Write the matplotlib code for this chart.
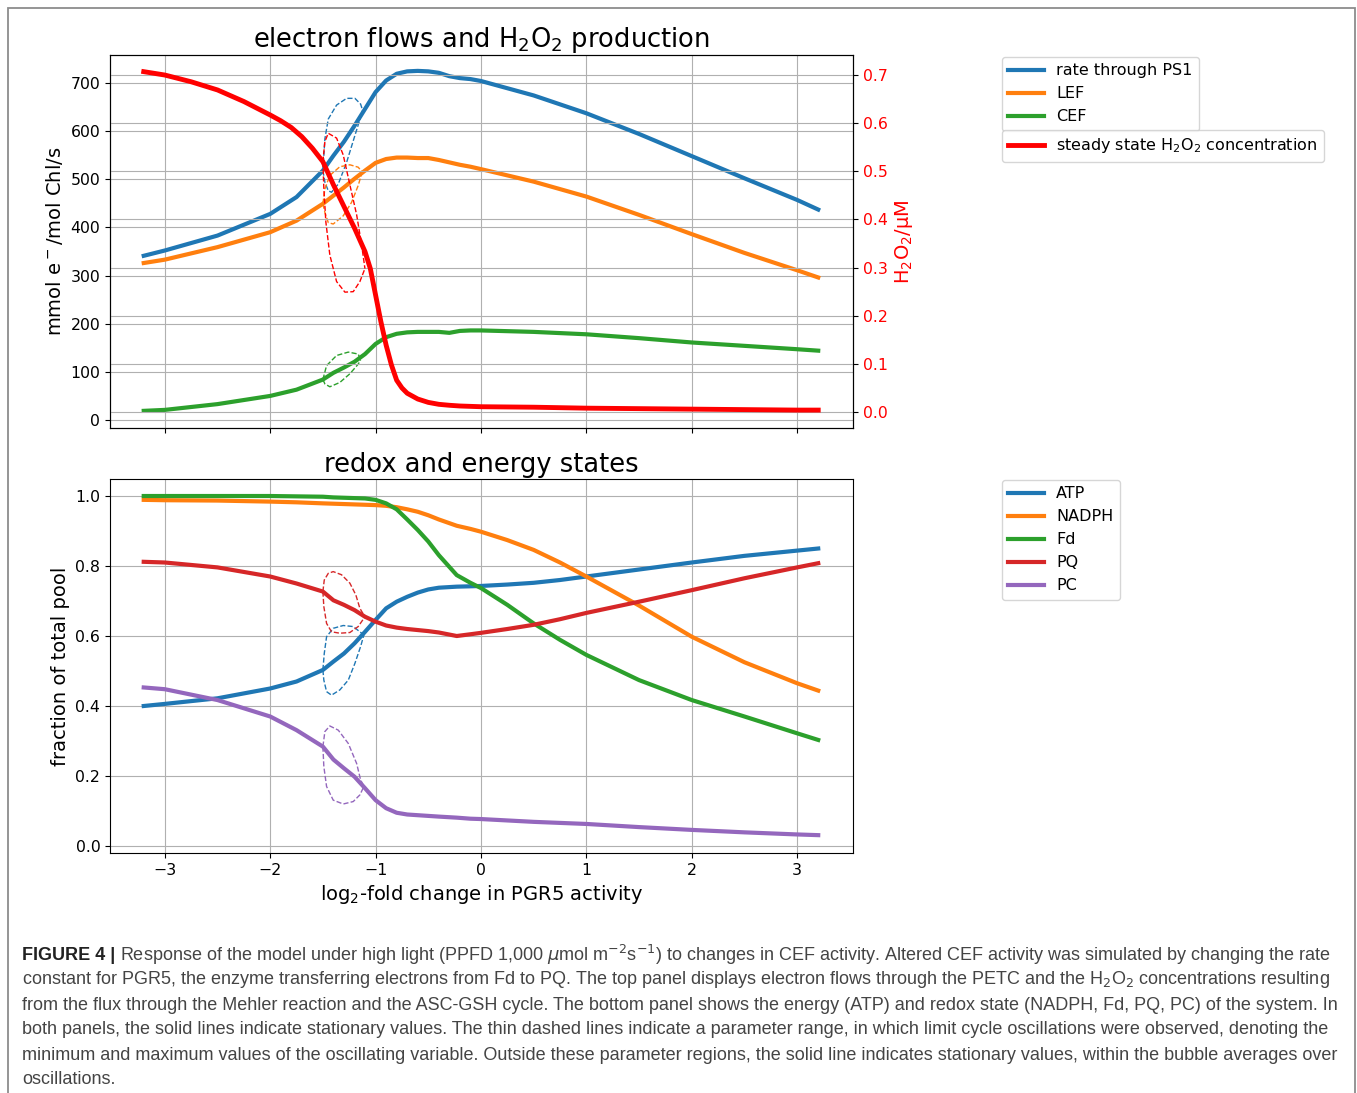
import matplotlib
matplotlib.use("Agg")
import matplotlib.pyplot as plt
from matplotlib.patches import Rectangle

# ---- top panel: electron flows (mmol e-/mol Chl/s) ----
x_top = [-3.2, -3.0, -2.5, -2.0, -1.75, -1.5, -1.4, -1.3, -1.2, -1.1, -1.0, -0.9, -0.8,
         -0.7, -0.6, -0.5, -0.4, -0.3, -0.2, -0.1, 0.0, 0.5, 1.0, 1.5, 2.0, 2.5, 3.0, 3.2]
ps1 = [341, 352, 383, 428, 463, 518, 549, 578, 611, 646, 681, 705, 719,
       724, 725, 724, 721, 714, 710, 708, 704, 674, 637, 594, 548, 502, 457, 437]
lef = [326, 333, 359, 390, 414, 449, 466, 483, 501, 518, 534, 542, 545,
       545, 544, 544, 540, 535, 530, 526, 521, 495, 464, 426, 386, 347, 311, 296]
cef = [19, 21, 33, 50, 63, 84, 98, 109, 121, 137, 158, 172, 179,
       182, 183, 183, 183, 181, 185, 186, 186, 183, 178, 170, 161, 154, 147, 144]

x_h2o2 = [-3.2, -3.0, -2.75, -2.5, -2.25, -2.0, -1.9, -1.8, -1.7, -1.6, -1.5, -1.4, -1.3, -1.2,
          -1.1, -1.05, -1.0, -0.95, -0.9, -0.85, -0.8, -0.75, -0.7, -0.6, -0.5, -0.4, -0.3,
          -0.2, 0.0, 0.5, 1.0, 1.5, 2.0, 2.5, 3.0, 3.2]
h2o2 = [0.707, 0.700, 0.686, 0.669, 0.645, 0.617, 0.605, 0.591, 0.572, 0.548, 0.520, 0.472, 0.427, 0.382,
        0.333, 0.298, 0.243, 0.188, 0.139, 0.098, 0.066, 0.050, 0.039, 0.027, 0.020, 0.016, 0.014,
        0.0125, 0.011, 0.010, 0.008, 0.007, 0.006, 0.005, 0.004, 0.004]

# oscillation bubbles (max / min), top panel
ps1_bx_max = [-1.5, -1.481, -1.449, -1.37, -1.275, -1.196, -1.142, -1.123]
ps1_max = [518, 584, 625, 654, 668, 668, 656, 643]
ps1_bx_min = [-1.5, -1.481, -1.449, -1.418, -1.354, -1.275, -1.196, -1.142, -1.123]
ps1_min = [518, 494, 476, 473, 490, 535, 591, 629, 643]

lef_bx_max = [-1.5, -1.481, -1.434, -1.339, -1.244, -1.165, -1.127]
lef_max = [449, 480, 508, 526, 530, 525, 515]
lef_bx_min = [-1.5, -1.481, -1.449, -1.402, -1.307, -1.228, -1.165, -1.127]
lef_min = [449, 431, 410, 407, 424, 452, 487, 515]

cef_bx_max = [-1.5, -1.465, -1.37, -1.259, -1.165, -1.142]
cef_max = [84, 113, 134, 141, 137, 125]
cef_bx_min = [-1.5, -1.481, -1.434, -1.339, -1.244, -1.165, -1.142]
cef_min = [84, 75, 69, 78, 96, 116, 125]

h2o2_bx_max = [-1.5, -1.481, -1.449, -1.37, -1.307, -1.244, -1.18, -1.133, -1.101]
h2o2_max = [0.520, 0.562, 0.579, 0.569, 0.534, 0.472, 0.410, 0.348, 0.298]
h2o2_bx_min = [-1.5, -1.491, -1.472, -1.434, -1.37, -1.291, -1.212, -1.149, -1.101]
h2o2_min = [0.520, 0.465, 0.395, 0.326, 0.271, 0.249, 0.250, 0.271, 0.298]

# ---- bottom panel: fraction of total pool ----
x_bot = [-3.2, -3.0, -2.5, -2.0, -1.75, -1.5, -1.4, -1.3, -1.2, -1.1, -1.0, -0.9, -0.8, -0.7,
         -0.6, -0.5, -0.4, -0.23, -0.1, 0.0, 0.25, 0.5, 0.75, 1.0, 1.5, 2.0, 2.5, 3.0, 3.2]
atp = [0.400, 0.406, 0.422, 0.450, 0.470, 0.503, 0.527, 0.550, 0.579, 0.612, 0.646, 0.679, 0.698, 0.712,
       0.724, 0.733, 0.738, 0.741, 0.742, 0.743, 0.747, 0.752, 0.760, 0.770, 0.790, 0.810, 0.829, 0.844, 0.850]
nadph = [0.989, 0.988, 0.987, 0.984, 0.982, 0.979, 0.978, 0.977, 0.976, 0.975, 0.974, 0.972, 0.968, 0.962,
         0.955, 0.945, 0.933, 0.915, 0.906, 0.898, 0.874, 0.846, 0.810, 0.770, 0.687, 0.598, 0.525, 0.465, 0.444]
fd = [1.0, 1.0, 1.0, 1.0, 0.999, 0.998, 0.996, 0.995, 0.994, 0.993, 0.989, 0.979, 0.962, 0.933,
      0.903, 0.870, 0.831, 0.774, 0.752, 0.737, 0.689, 0.636, 0.589, 0.546, 0.474, 0.417, 0.370, 0.322, 0.303]
pq = [0.812, 0.810, 0.796, 0.770, 0.750, 0.727, 0.702, 0.689, 0.674, 0.655, 0.641, 0.630, 0.624, 0.620,
      0.617, 0.614, 0.610, 0.600, 0.605, 0.609, 0.620, 0.632, 0.648, 0.666, 0.698, 0.731, 0.765, 0.796, 0.808]
pc = [0.453, 0.448, 0.417, 0.370, 0.331, 0.284, 0.247, 0.222, 0.198, 0.165, 0.131, 0.108, 0.095, 0.090,
      0.088, 0.086, 0.084, 0.081, 0.078, 0.077, 0.073, 0.069, 0.066, 0.063, 0.054, 0.046, 0.039, 0.033, 0.031]

atp_bx_max = [-1.5, -1.487, -1.465, -1.402, -1.307, -1.212, -1.149, -1.111]
atp_max = [0.503, 0.550, 0.598, 0.622, 0.630, 0.627, 0.612, 0.603]
atp_bx_min = [-1.5, -1.491, -1.465, -1.418, -1.339, -1.259, -1.196, -1.142, -1.111]
atp_min = [0.503, 0.474, 0.441, 0.431, 0.446, 0.474, 0.522, 0.570, 0.603]

pq_bx_max = [-1.5, -1.487, -1.449, -1.402, -1.323, -1.244, -1.187, -1.149, -1.101]
pq_max = [0.727, 0.760, 0.779, 0.784, 0.775, 0.751, 0.717, 0.679, 0.655]
pq_bx_min = [-1.5, -1.491, -1.465, -1.418, -1.339, -1.244, -1.165, -1.101]
pq_min = [0.727, 0.684, 0.636, 0.612, 0.608, 0.610, 0.627, 0.655]

pc_bx_max = [-1.5, -1.481, -1.434, -1.354, -1.259, -1.18, -1.142, -1.111]
pc_max = [0.284, 0.327, 0.343, 0.331, 0.293, 0.236, 0.189, 0.170]
pc_bx_min = [-1.5, -1.491, -1.465, -1.402, -1.307, -1.212, -1.149, -1.111]
pc_min = [0.284, 0.227, 0.170, 0.131, 0.120, 0.127, 0.146, 0.170]

caption_lines = [
    r"Response of the model under high light (PPFD 1,000 $\mu$mol m$^{-2}$s$^{-1}$) to changes in CEF activity. Altered CEF activity was simulated by changing the rate",
    r"constant for PGR5, the enzyme transferring electrons from Fd to PQ. The top panel displays electron flows through the PETC and the H$_2$O$_2$ concentrations resulting",
    "from the flux through the Mehler reaction and the ASC-GSH cycle. The bottom panel shows the energy (ATP) and redox state (NADPH, Fd, PQ, PC) of the system. In",
    "both panels, the solid lines indicate stationary values. The thin dashed lines indicate a parameter range, in which limit cycle oscillations were observed, denoting the",
    "minimum and maximum values of the oscillating variable. Outside these parameter regions, the solid line indicates stationary values, within the bubble averages over",
    "oscillations.",
]

W, H = 1357, 1093
fig = plt.figure(figsize=(W / 100, H / 100), dpi=100)

ax1 = fig.add_axes([110 / W, 1 - 428 / H, 743 / W, 373 / H])
ax2 = ax1.twinx()
ax3 = fig.add_axes([110 / W, 1 - 853 / H, 743 / W, 374 / H])

lw = 3
title_fs = 18.5
label_fs = 14
leg_fs = 11.5

l1, = ax1.plot(x_top, ps1, color='tab:blue', lw=lw, label='rate through PS1')
l2, = ax1.plot(x_top, lef, color='tab:orange', lw=lw, label='LEF')
l3, = ax1.plot(x_top, cef, color='tab:green', lw=lw, label='CEF')
for bx1, b1, bx2, b2, c in [(ps1_bx_max, ps1_max, ps1_bx_min, ps1_min, 'tab:blue'),
                            (lef_bx_max, lef_max, lef_bx_min, lef_min, 'tab:orange'),
                            (cef_bx_max, cef_max, cef_bx_min, cef_min, 'tab:green')]:
    ax1.plot(bx1, b1, '--', color=c, lw=1)
    ax1.plot(bx2, b2, '--', color=c, lw=1)

l4, = ax2.plot(x_h2o2, h2o2, color='red', lw=3.5, label='steady state H$_2$O$_2$ concentration')
ax2.plot(h2o2_bx_max, h2o2_max, '--', color='red', lw=1)
ax2.plot(h2o2_bx_min, h2o2_min, '--', color='red', lw=1)

ax1.set_xlim(-3.52, 3.53)
ax1.set_ylim(-16.6, 758)
ax2.set_ylim(-0.0332, 0.7416)
ax1.set_yticks([0, 100, 200, 300, 400, 500, 600, 700])
ax2.set_yticks([0.0, 0.1, 0.2, 0.3, 0.4, 0.5, 0.6, 0.7])
ax1.set_xticks([-3, -2, -1, 0, 1, 2, 3])
ax1.tick_params(labelbottom=False, labelsize=11.3)
ax2.tick_params(axis='y', labelcolor='red', labelsize=11.3)
ax1.grid(True)
ax2.grid(True)
ax1.set_ylabel('mmol e$^-$/mol Chl/s', fontsize=label_fs)
ax2.set_ylabel('H$_2$O$_2$/µM', color='red', fontsize=label_fs)
ax1.set_title('electron flows and H$_2$O$_2$ production', fontsize=title_fs, pad=5)

ax1.legend(handles=[l1, l2, l3], loc='upper left', bbox_to_anchor=(1002 / W, 1 - 57 / H),
           bbox_transform=fig.transFigure, borderaxespad=0, fontsize=leg_fs, handlelength=2.2)
ax2.legend(handles=[l4], loc='upper left', bbox_to_anchor=(1002 / W, 1 - 130 / H),
           bbox_transform=fig.transFigure, borderaxespad=0, fontsize=leg_fs, handlelength=2.2)

# bottom panel
b1, = ax3.plot(x_bot, atp, color='tab:blue', lw=lw, label='ATP')
b2, = ax3.plot(x_bot, nadph, color='tab:orange', lw=lw, label='NADPH')
b3, = ax3.plot(x_bot, fd, color='tab:green', lw=lw, label='Fd')
b4, = ax3.plot(x_bot, pq, color='tab:red', lw=lw, label='PQ')
b5, = ax3.plot(x_bot, pc, color='tab:purple', lw=lw, label='PC')
for bx1, v1, bx2, v2, c in [(atp_bx_max, atp_max, atp_bx_min, atp_min, 'tab:blue'),
                            (pq_bx_max, pq_max, pq_bx_min, pq_min, 'tab:red'),
                            (pc_bx_max, pc_max, pc_bx_min, pc_min, 'tab:purple')]:
    ax3.plot(bx1, v1, '--', color=c, lw=1)
    ax3.plot(bx2, v2, '--', color=c, lw=1)

ax3.set_xlim(-3.52, 3.53)
ax3.set_ylim(-0.02, 1.0486)
ax3.set_xticks([-3, -2, -1, 0, 1, 2, 3])
ax3.set_yticks([0.0, 0.2, 0.4, 0.6, 0.8, 1.0])
ax3.tick_params(labelsize=11.3)
ax3.grid(True)
ax3.set_ylabel('fraction of total pool', fontsize=label_fs)
ax3.set_xlabel('log$_2$-fold change in PGR5 activity', fontsize=label_fs)
ax3.set_title('redox and energy states', fontsize=title_fs, pad=5)
ax3.legend(handles=[b1, b2, b3, b4, b5], loc='upper left', bbox_to_anchor=(1002 / W, 1 - 480 / H),
           bbox_transform=fig.transFigure, borderaxespad=0, fontsize=leg_fs, handlelength=2.2)

# frame around figure + caption
fig.patches.append(Rectangle((8 / W, -0.02), 1347 / W, 1 - 8 / H + 0.02, transform=fig.transFigure,
                             fill=False, edgecolor='#8c8c8c', lw=1.3))

fig.canvas.draw()
rend = fig.canvas.get_renderer()
cap_font = 'Liberation Sans'
probe = fig.text(0, 0, caption_lines[3], fontsize=12, family=cap_font)
pw = probe.get_window_extent(rend).width
probe.remove()
cap_size = 12 * (1325 - 22) / pw

x0 = 22 / W
ys = [955, 980, 1005, 1030, 1055, 1080]
head = fig.text(x0, 1 - ys[0] / H, 'FIGURE 4 | ', fontsize=cap_size, family=cap_font,
                fontweight='bold', color='#222222', va='center')
hw = head.get_window_extent(rend).width
fig.text(x0 + hw / W, 1 - ys[0] / H, caption_lines[0], fontsize=cap_size, family=cap_font,
         color='#444444', va='center')
for line, y in zip(caption_lines[1:], ys[1:]):
    fig.text(x0, 1 - y / H, line, fontsize=cap_size, family=cap_font, color='#444444', va='center')

fig.savefig('out.png', dpi=100)
